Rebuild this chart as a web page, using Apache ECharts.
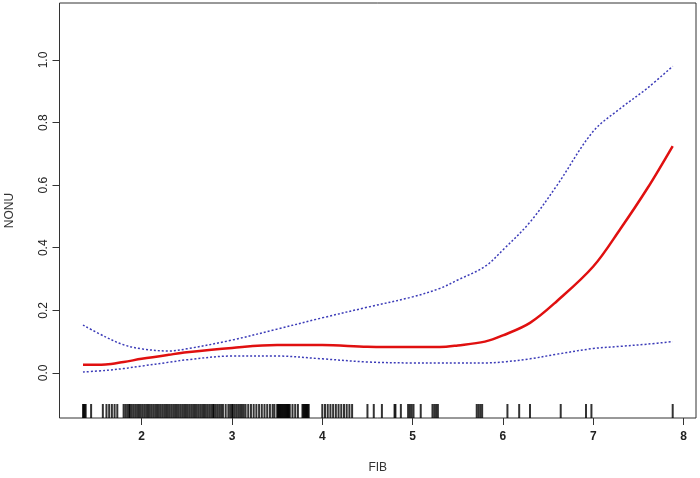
<!DOCTYPE html>
<html>
<head>
<meta charset="utf-8">
<script src="https://cdn.jsdelivr.net/npm/echarts@6/dist/echarts.min.js"></script>
<style>
  html, body { margin: 0; padding: 0; background: #fff; }
  #chart { width: 700px; height: 478px; }
</style>
</head>
<body>
<div id="chart"></div>
<script>
// fitted curve and confidence bands
const fibX = [1.35, 1.6, 1.8, 2.0, 2.3, 2.5, 3.0, 3.5, 4.0, 4.5, 5.0, 5.3, 5.5, 5.8, 6.0, 6.3, 6.6, 7.0, 7.3, 7.6, 7.88]
const fitY = [0.026, 0.027, 0.035, 0.045, 0.058, 0.066, 0.08, 0.089, 0.089, 0.084, 0.083, 0.083, 0.088, 0.10, 0.12, 0.16, 0.23, 0.34, 0.46, 0.59, 0.725]
const upperY = [0.153, 0.115, 0.09, 0.077, 0.07, 0.077, 0.105, 0.14, 0.176, 0.21, 0.243, 0.27, 0.297, 0.34, 0.393, 0.482, 0.60, 0.772, 0.845, 0.91, 0.98]
const lowerY = [0.003, 0.008, 0.014, 0.022, 0.034, 0.042, 0.054, 0.054, 0.045, 0.035, 0.032, 0.032, 0.032, 0.032, 0.035, 0.045, 0.06, 0.078, 0.085, 0.092, 0.10]

// rug positions
const rugX = [
  1.35, 1.36, 1.37, 1.38, 1.44,
  1.57, 1.61, 1.64, 1.67, 1.70, 1.73,
  1.80, 1.82, 1.84, 1.86, 1.87, 1.89, 1.91, 1.93, 1.95, 1.97, 1.99, 2.01, 2.03, 2.05, 2.07, 2.09,
  2.11, 2.13, 2.15, 2.17, 2.19, 2.21, 2.23, 2.25, 2.27, 2.29, 2.31, 2.33, 2.35, 2.37, 2.39, 2.41,
  2.43, 2.45, 2.47, 2.49, 2.51, 2.53, 2.55, 2.57, 2.59, 2.61, 2.63, 2.65, 2.67, 2.69, 2.71, 2.73,
  2.75, 2.77, 2.79, 2.80, 2.82, 2.84, 2.86, 2.88, 2.90, 2.93, 2.96, 2.98, 3.00, 3.01, 3.03, 3.05,
  3.07, 3.09, 3.11, 3.13, 3.15, 3.18, 3.21, 3.24, 3.27, 3.30, 3.33, 3.36, 3.39, 3.42, 3.45, 3.47,
  3.50, 3.51, 3.52, 3.53, 3.54, 3.55, 3.56, 3.57, 3.58, 3.59, 3.60, 3.61, 3.62, 3.63, 3.64,
  3.67, 3.70, 3.73, 3.78, 3.79, 3.80, 3.81, 3.82, 3.83, 3.84, 3.85,
  4.00, 4.03, 4.06, 4.09, 4.12, 4.15, 4.18, 4.21, 4.24, 4.27, 4.30, 4.33,
  4.50, 4.57, 4.66, 4.80, 4.81, 4.87, 4.95, 4.97, 4.99, 5.01, 5.09, 5.22, 5.24, 5.26, 5.28,
  5.71, 5.73, 5.75, 5.77, 6.05, 6.18, 6.30, 6.64, 6.92, 6.98, 7.88
]

const xTicks = [2, 3, 4, 5, 6, 7, 8]
const yTicks = [0, 0.2, 0.4, 0.6, 0.8, 1.0]

const xMin = 1.09, xMax = 8.138
const yMin = -0.144, yMax = 1.182

const pairs = ys => fibX.map((x, i) => [x, ys[i]])

const chart = echarts.init(document.getElementById('chart'))
chart.setOption({
  backgroundColor: '#fff',
  animation: false,
  textStyle: { fontFamily: 'Liberation Sans, Arial, sans-serif' },
  grid: {
    left: 59.5, right: 4, top: 3, bottom: 60,
    containLabel: false,
    outerBoundsMode: 'none',
    show: true, borderColor: '#333', borderWidth: 1, backgroundColor: 'transparent'
  },
  xAxis: {
    type: 'value',
    min: xMin, max: xMax,
    name: 'FIB',
    nameLocation: 'middle',
    nameGap: 44,
    nameTextStyle: { color: '#333', fontSize: 12 },
    axisLine: { show: false, onZero: false },
    axisTick: { show: true, length: 7, lineStyle: { color: '#333' }, customValues: xTicks },
    axisLabel: { color: '#222', fontSize: 12, fontWeight: 'bold', margin: 13, customValues: xTicks },
    splitLine: { show: false }
  },
  yAxis: {
    type: 'value',
    min: yMin, max: yMax,
    name: 'NONU',
    nameLocation: 'middle',
    nameGap: 44,
    nameTextStyle: { color: '#333', fontSize: 12 },
    axisLine: { show: false, onZero: false },
    axisTick: { show: true, length: 7, lineStyle: { color: '#333' }, customValues: yTicks },
    axisLabel: {
      color: '#222', fontSize: 12, rotate: 90, margin: 10,
      customValues: yTicks,
      formatter: v => v.toFixed(1)
    },
    splitLine: { show: false }
  },
  series: [
    {
      type: 'scatter',
      data: rugX.map(x => [x, yMin]),
      symbol: 'rect',
      symbolSize: [2, 14],
      symbolOffset: [0, -7],
      itemStyle: { color: '#000' },
      silent: true
    },
    {
      type: 'line',
      data: pairs(upperY),
      smooth: 0.35,
      showSymbol: false,
      lineStyle: { color: '#3b3bb8', width: 1.5, type: [2, 2] }
    },
    {
      type: 'line',
      data: pairs(lowerY),
      smooth: 0.35,
      showSymbol: false,
      lineStyle: { color: '#3b3bb8', width: 1.5, type: [2, 2] }
    },
    {
      type: 'line',
      data: pairs(fitY),
      smooth: 0.35,
      showSymbol: false,
      lineStyle: { color: '#e01010', width: 2.5 }
    }
  ]
})
</script>
</body>
</html>
